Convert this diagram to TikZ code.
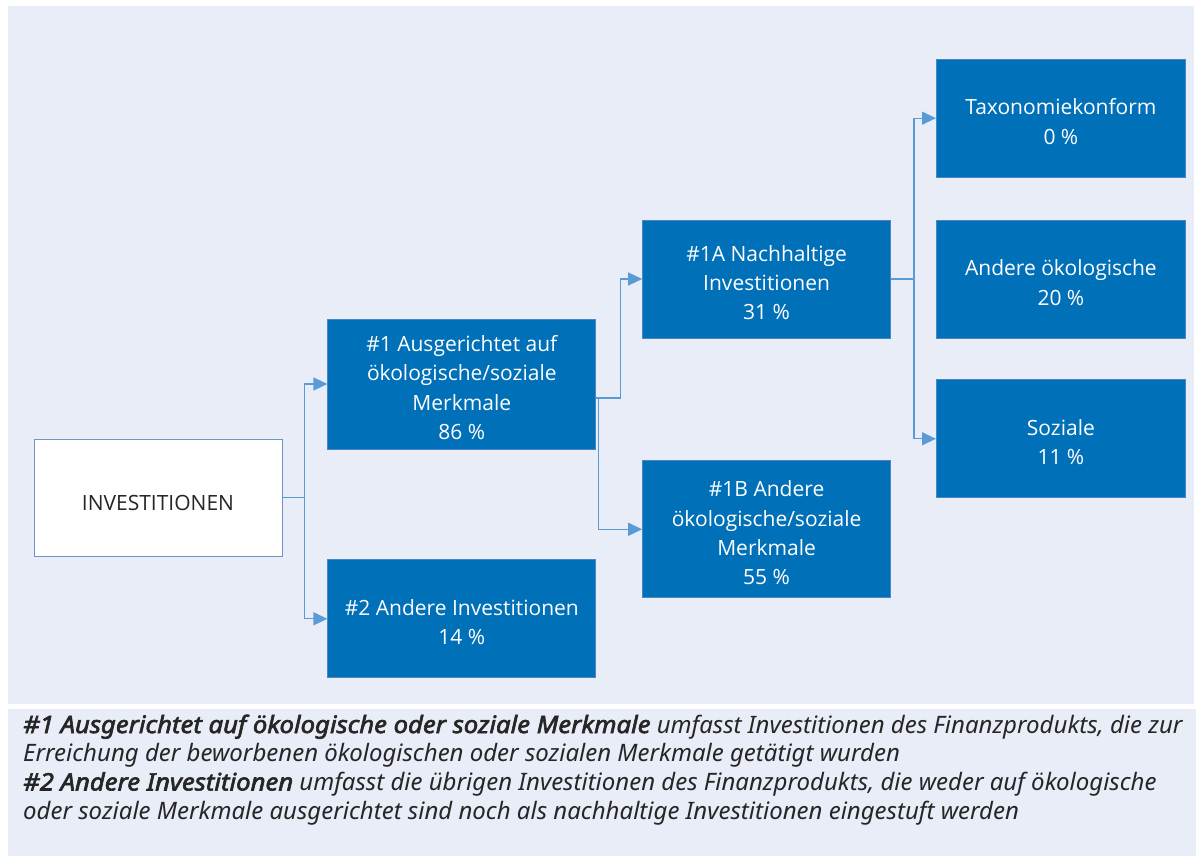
\documentclass[tikz,border=0pt]{standalone}
\usepackage{fontspec}
\setmainfont{Open Sans}
\newfontfamily\notefont{Noto Sans}[BoldItalicFont={Noto Sans Italic}, BoldItalicFeatures={FakeBold=2.6, FakeStretch=1.07}]
\usetikzlibrary{arrows.meta, positioning}
\definecolor{panelbg}{HTML}{E9EDF8}
\definecolor{boxblue}{HTML}{0070B8}
\definecolor{boxedge}{HTML}{4A86C5}
\definecolor{connblue}{HTML}{5B9BD5}
\definecolor{invedge}{HTML}{6F93C4}
\definecolor{textgray}{HTML}{262626}
% Abstand oberhalb der ersten Zeile
\newcommand{\boxstrut}{\rule{0pt}{23pt}}

\begin{document}
\begin{tikzpicture}[
    x=1pt, y=1pt,
    box/.style={
        rectangle,
        draw=boxedge,
        line width=0.8pt,
        fill=boxblue,
        text=white,
        align=center,
        inner sep=0pt,
        minimum width=248pt,
        minimum height=118pt,
        font=\fontsize{21}{29.3}\selectfont
    },
    rootbox/.style={box, fill=white, draw=invedge, text=textgray, minimum height=117pt},
    note/.style={align=left, inner sep=0pt, text=textgray, font=\notefont\itshape\fontsize{24}{28.7}\selectfont},
    arrow/.style={-{Triangle[length=14pt, width=13pt]}, draw=connblue, line width=1.3pt}
]
\useasboundingbox (0,0) rectangle (1203,859);

% Hintergrundflaechen
\fill[panelbg] (8,155) rectangle (1194,853);
\fill[panelbg] (8,3) rectangle (1196,150);

\node[rootbox] (inv) at (158,361.5) {\rule{0pt}{27pt}INVESTITIONEN};
\node[box, minimum width=268pt, minimum height=130pt, right=45pt of inv, yshift=113.5pt] (a1) {\boxstrut\#1 Ausgerichtet auf\\ökologische/soziale\\Merkmale\\86 \%};
\node[box, minimum width=268pt, below=110pt of a1] (a2) {\boxstrut\#2 Andere Investitionen\\14 \%};
\node[box, right=46pt of a1, yshift=105pt] (n1A) {\boxstrut\#1A Nachhaltige\\Investitionen\\31 \%};
\node[box, minimum height=137pt, below=122pt of n1A] (n1B) {\boxstrut\#1B Andere\\ökologische/soziale\\Merkmale\\55 \%};
\node[box, minimum width=249pt, right=45pt of n1A] (andere) {\boxstrut Andere ökologische\\20 \%};
\node[box, minimum width=249pt, above=42pt of andere] (tax) {\boxstrut Taxonomiekonform\\0 \%};
\node[box, minimum width=249pt, below=41pt of andere] (soz) {\boxstrut Soziale\\11 \%};

\draw[arrow] (inv.east) -- ++(22,0) |- (a1.west);
\draw[arrow] (inv.east) -- ++(22,0) |- (a2.west);
\draw[arrow] ([yshift=-14pt]a1.east) -- ++(24,0) |- (n1A.west);
\draw[arrow] ([yshift=-14pt]a1.east) -- ++(2,0) |- (n1B.west);
\draw[arrow] (n1A.east) -- ++(23,0) |- (tax.west);
\draw[arrow] (n1A.east) -- ++(23,0) |- (soz.west);

% Legende
\node[note, anchor=north west] (legend) at (23,144.5) {\textbf{\#1 Ausgerichtet auf ökologische oder soziale Merkmale} umfasst Investitionen des Finanzprodukts, die zur\\Erreichung der beworbenen ökologischen oder sozialen Merkmale getätigt wurden\\\textbf{\#2 Andere Investitionen} umfasst die übrigen Investitionen des Finanzprodukts, die weder auf ökologische\\oder soziale Merkmale ausgerichtet sind noch als nachhaltige Investitionen eingestuft werden};

\end{tikzpicture}
\end{document}
